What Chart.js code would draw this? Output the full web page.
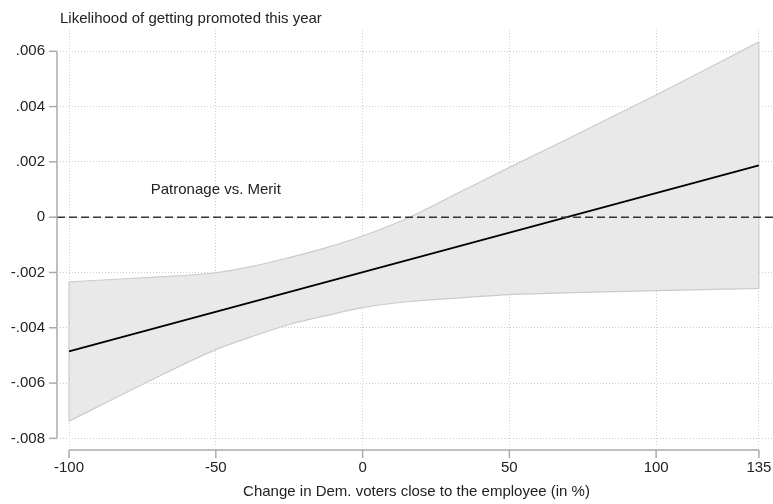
<!DOCTYPE html>
<html>
<head>
<meta charset="utf-8">
<script src="https://cdn.jsdelivr.net/npm/chart.js@4"></script>
<style>
  html, body { margin: 0; padding: 0; background: #fff; }
  #chart { display: block; }
</style>
</head>
<body>
<canvas id="chart" width="773" height="504"></canvas>
<script>
// values
var bandX   = [-100, -75, -50, -38, -25, -12, 0, 16, 33, 50, 75, 100, 135];
var upperCI = [-0.00234, -0.00219, -0.00201, -0.00179, -0.00146, -0.00109, -0.00068, 0.0, 0.00090, 0.00180, 0.00310, 0.00442, 0.00634];
var lowerCI = [-0.00738, -0.00605, -0.00479, -0.00433, -0.00388, -0.00355, -0.00327, -0.00305, -0.00292, -0.00280, -0.00272, -0.00266, -0.00258];
var fitX = [-100, 135];
var fitY = [-0.00485, 0.00187];

var xTicks = [-100, -50, 0, 50, 100, 135];
var yTicks = [-0.008, -0.006, -0.004, -0.002, 0, 0.002, 0.004, 0.006];
var yTickLabels = ['-.008', '-.006', '-.004', '-.002', '0', '.002', '.004', '.006'];

var refY = 0;
var noteText = 'Patronage vs. Merit';
var noteX = -50;
var noteY = 0.001;

Chart.defaults.font.family = '"Liberation Sans", Arial, Helvetica, sans-serif';
Chart.defaults.font.size = 15;
Chart.defaults.color = '#222';

function toPoints(xs, ys) {
    return xs.map(function (x, i) { return { x: x, y: ys[i] }; });
}

// stata-like extras: offset axes, zero line, note, band end edges
var stataPlugin = {
    id: 'stataPlugin',
    afterDatasetDraw: function (chart, args) {
        if (args.index !== 1) return;
        var ctx = chart.ctx, xs = chart.scales.x, ys = chart.scales.y;
        ctx.save();
        ctx.strokeStyle = '#cbcbcb';
        ctx.lineWidth = 1.2;
        [0, bandX.length - 1].forEach(function (i) {
            var px = xs.getPixelForValue(bandX[i]);
            ctx.beginPath();
            ctx.moveTo(px, ys.getPixelForValue(upperCI[i]));
            ctx.lineTo(px, ys.getPixelForValue(lowerCI[i]));
            ctx.stroke();
        });
        ctx.restore();
    },
    afterDatasetsDraw: function (chart) {
        var ctx = chart.ctx, xs = chart.scales.x, ys = chart.scales.y, area = chart.chartArea;
        ctx.save();
        // zero line
        var py = ys.getPixelForValue(refY);
        ctx.strokeStyle = '#333';
        ctx.lineWidth = 1.5;
        ctx.setLineDash([8, 4]);
        ctx.beginPath();
        ctx.moveTo(area.left - 3, py);
        ctx.lineTo(area.right, py);
        ctx.stroke();
        ctx.setLineDash([]);
        // note
        ctx.fillStyle = '#222';
        ctx.font = '15px "Liberation Sans", Arial, sans-serif';
        ctx.textAlign = 'center';
        ctx.textBaseline = 'middle';
        ctx.fillText(noteText, xs.getPixelForValue(noteX), ys.getPixelForValue(noteY));
        ctx.restore();
    },
    afterDraw: function (chart) {
        var ctx = chart.ctx, xs = chart.scales.x, ys = chart.scales.y, area = chart.chartArea;
        ctx.save();
        ctx.strokeStyle = '#aaaaaa';
        ctx.lineWidth = 1.5;
        function seg(x1, y1, x2, y2) {
            ctx.beginPath();
            ctx.moveTo(x1, y1);
            ctx.lineTo(x2, y2);
            ctx.stroke();
        }
        // y axis
        var ax = area.left - 3;
        seg(ax, ys.getPixelForValue(yTicks[yTicks.length - 1]), ax, ys.getPixelForValue(yTicks[0]));
        yTicks.forEach(function (v) {
            var p = ys.getPixelForValue(v);
            seg(ax - 8, p, ax, p);
        });
        // x axis
        var ay = area.bottom + 5;
        seg(xs.getPixelForValue(xTicks[0]), ay, xs.getPixelForValue(xTicks[xTicks.length - 1]), ay);
        xTicks.forEach(function (v) {
            var p = xs.getPixelForValue(v);
            seg(p, ay, p, ay + 8);
        });
        ctx.restore();
    }
};

var ctx = document.getElementById('chart').getContext('2d');
var chart = new Chart(ctx, {
    type: 'line',
    data: {
        datasets: [{
            label: 'Upper CI',
            data: toPoints(bandX, upperCI),
            borderColor: '#cbcbcb',
            borderWidth: 1.2,
            backgroundColor: '#e9e9e9',
            fill: '+1',
            pointRadius: 0,
            cubicInterpolationMode: 'monotone',
            order: 3
        }, {
            label: 'Lower CI',
            data: toPoints(bandX, lowerCI),
            borderColor: '#cbcbcb',
            borderWidth: 1.2,
            fill: false,
            pointRadius: 0,
            cubicInterpolationMode: 'monotone',
            order: 2
        }, {
            label: 'Fit',
            data: toPoints(fitX, fitY),
            borderColor: '#000',
            borderWidth: 1.8,
            fill: false,
            pointRadius: 0,
            order: 1
        }]
    },
    options: {
        responsive: false,
        animation: false,
        layout: { padding: 0 },
        plugins: {
            legend: { display: false },
            tooltip: { enabled: false },
            title: {
                display: true,
                text: 'Likelihood of getting promoted this year',
                align: 'start',
                fullSize: false,
                padding: { top: 10, bottom: 2 },
                font: { size: 15, weight: 'normal' },
                color: '#222'
            }
        },
        scales: {
            x: {
                type: 'linear',
                min: -103.07,
                max: 139.8,
                afterBuildTicks: function (scale) {
                    scale.ticks = xTicks.map(function (v) { return { value: v }; });
                },
                afterFit: function (scale) {
                    scale.height = 59;
                    scale.paddingLeft = 0;
                    scale.paddingRight = 0;
                },
                ticks: { padding: 14, maxRotation: 0, autoSkip: false, color: '#222' },
                grid: { color: '#cfcfcf', lineWidth: 1, drawTicks: false },
                border: { display: false, dash: [1, 2] },
                title: {
                    display: true,
                    text: 'Change in Dem. voters close to the employee (in %)',
                    padding: { top: 0, bottom: 3 },
                    color: '#222'
                }
            },
            y: {
                type: 'linear',
                min: -0.00824,
                max: 0.00677,
                afterBuildTicks: function (scale) {
                    scale.ticks = yTicks.map(function (v) { return { value: v }; });
                },
                afterFit: function (scale) { scale.width = 60; },
                ticks: {
                    padding: 15,
                    autoSkip: false,
                    color: '#222',
                    callback: function (value) {
                        var i = yTicks.indexOf(value);
                        return i >= 0 ? yTickLabels[i] : '';
                    }
                },
                grid: { color: '#cfcfcf', lineWidth: 1, drawTicks: false },
                border: { display: false, dash: [1, 2] }
            }
        }
    },
    plugins: [stataPlugin]
});
</script>
</body>
</html>
